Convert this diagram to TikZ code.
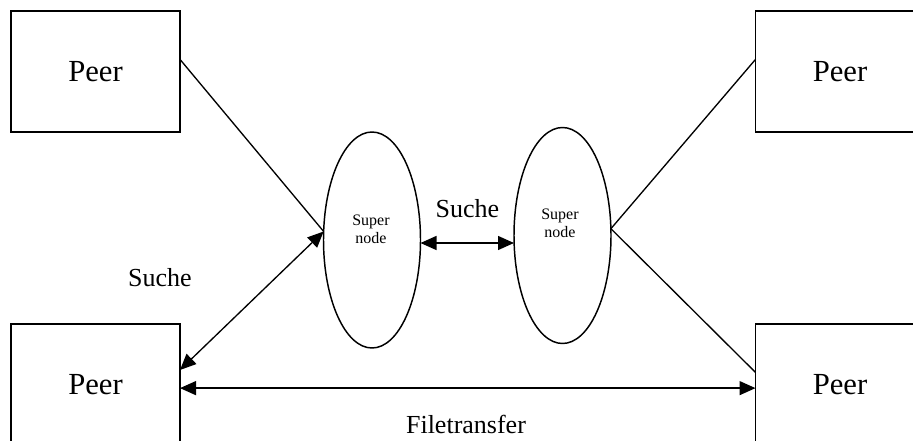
\documentclass[tikz,border=0pt]{standalone}
\usepackage{fontspec}
\setmainfont{Liberation Serif}
\usetikzlibrary{shapes.geometric,arrows.meta,calc}
\begin{document}
\begin{tikzpicture}[x=0.75pt,y=-0.75pt,
  peer/.style={draw,line width=1.1pt,minimum width=126.75pt,minimum height=90.75pt,
    inner sep=0pt,outer sep=0pt,font=\fontsize{23}{27}\selectfont},
  snode/.style={draw,ellipse,line width=1.1pt,minimum width=72.75pt,minimum height=162pt,
    inner sep=0pt,outer sep=0pt},
  sntext/.style={align=center,font=\fontsize{12}{13.5}\selectfont,inner sep=0pt},
  lbl/.style={font=\fontsize{19.5}{23}\selectfont,inner sep=0pt,anchor=base},
  link/.style={line width=1pt},
  both/.style={link,{Triangle[length=12pt,width=10.5pt]}-{Triangle[length=12pt,width=10.5pt]}}]
\useasboundingbox (0,0) rectangle (913,441);

% peers
\node[peer] (TL) at (95.5,71.5) {Peer};
\node[peer] (TR) at (840,71.5) {Peer};
\node[peer] (BL) at (95.5,384.5) {Peer};
\node[peer] (BR) at (840,384.5) {Peer};

% super nodes
\node[snode] (L) at (372,240) {};
\node[snode] (R) at (562.5,235.5) {};
\node[sntext] at (371,229) {Super\\node};
\node[sntext] at (560,223) {Super\\node};

% attachment points
\coordinate (tl) at ($(TL.north east)!0.4!(TL.south east)$);
\coordinate (tr) at ($(TR.north west)!0.4!(TR.south west)$);
\coordinate (br) at ($(BR.north west)!0.4!(BR.south west)$);
\coordinate (blf) at ($(BL.north east)!0.53!(BL.south east)$);
\coordinate (brf) at ($(BR.north west)!0.53!(BR.south west)$);
\coordinate (bla) at ($(BL.north east)!0.38!(BL.south east)$);

% connectors
\draw[link] (tl) -- (L.170);
\draw[both] (bla) -- (L.170);
\draw[link] (tr) -- (R.8);
\draw[link] (br) -- (R.8);
\draw[both] ([yshift=-2.25pt]L.east) -- ([yshift=-2.25pt]L.east -| R.west);
\draw[both] (blf) -- (brf);

% labels
\node[lbl] at (160,287) {Suche};
\node[lbl] at (467.5,218) {Suche};
\node[lbl] at (466,433) {Filetransfer};
\end{tikzpicture}
\end{document}
